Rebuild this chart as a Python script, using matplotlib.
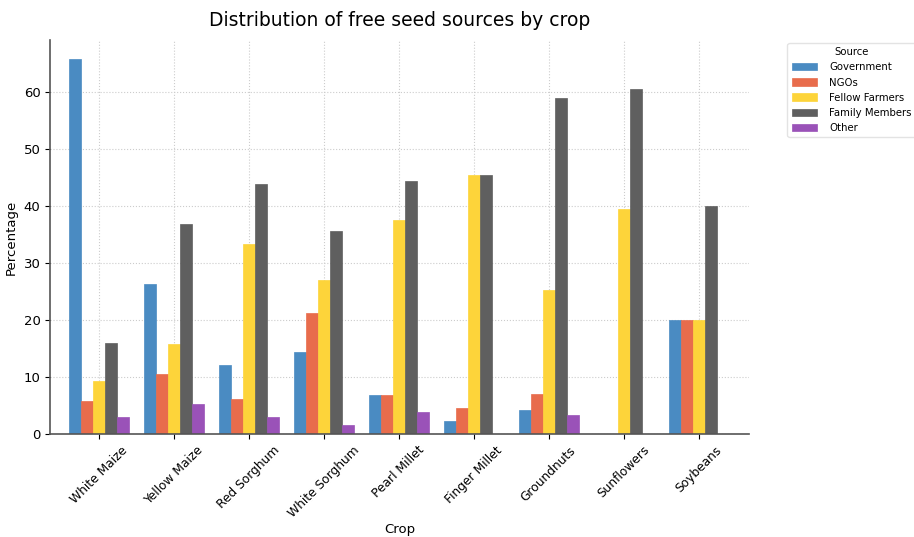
import matplotlib
matplotlib.use('Agg')
import matplotlib.pyplot as plt
import numpy as np

crops = ['White Maize', 'Yellow Maize', 'Red Sorghum', 'White Sorghum', 'Pearl Millet',
         'Finger Millet', 'Groundnuts', 'Sunflowers', 'Soybeans']
sources = ['Government', 'NGOs', 'Fellow Farmers', 'Family Members', 'Other']

government = [65.8, 26.3, 12.1, 14.4, 6.9, 2.3, 4.2, 0.0, 20.0]
ngos = [5.7, 10.5, 6.1, 21.3, 6.9, 4.5, 7.0, 0.0, 20.0]
fellow_farmers = [9.3, 15.8, 33.3, 27.0, 37.5, 45.5, 25.2, 39.5, 20.0]
family_members = [15.9, 36.8, 43.9, 35.6, 44.4, 45.5, 59.0, 60.5, 40.0]
other = [3.0, 5.3, 3.0, 1.6, 3.9, 0.0, 3.4, 0.0, 0.0]

series = [government, ngos, fellow_farmers, family_members, other]
colors = ['#4a8bc2', '#e86c4c', '#fdd43a', '#5f5f5f', '#9a52b8']

fig = plt.figure(figsize=(9.14, 5.37), dpi=100)
ax = fig.add_axes([0.055, 0.192, 0.765, 0.733])

x = np.arange(len(crops))
w = 0.16
for i, (vals, name) in enumerate(zip(series, sources)):
    ax.bar(x + (i - 2) * w, vals, w, label=name, color=colors[i],
           edgecolor=colors[i], linewidth=0.5)

ax.set_xticks(x)
ax.set_xticklabels(crops, rotation=45, fontsize=8.8)
ax.tick_params(axis='y', labelsize=9.5)
ax.set_xlim(-0.65, 8.68)
ax.set_xlabel('Crop', fontsize=9.5, labelpad=2)
ax.set_ylabel('Percentage', fontsize=9.5)
ax.set_title('Distribution of free seed sources by crop', fontsize=13.5, pad=10)
ax.grid(True, linestyle=':', color='#cccccc', linewidth=0.8)
ax.set_axisbelow(True)
for s in ['top', 'right']:
    ax.spines[s].set_visible(False)
ax.spines['left'].set_color('#555555')
ax.spines['bottom'].set_color('#555555')
ax.spines['left'].set_linewidth(1.2)
ax.spines['bottom'].set_linewidth(1.2)

ax.legend(title='Source', fontsize=7.3, title_fontsize=7.3, loc='upper left',
          bbox_to_anchor=(1.05, 1.0), frameon=True, edgecolor='#dddddd',
          handlelength=2.5, handletextpad=1.2, borderaxespad=0.3)

plt.savefig('out.png', dpi=100)
